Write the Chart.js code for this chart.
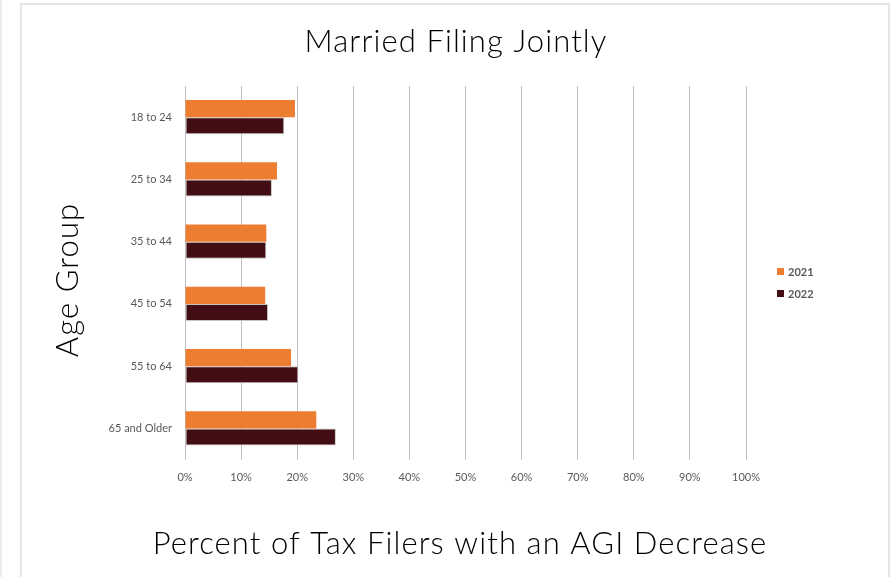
<!DOCTYPE html>
<html>
<head>
<meta charset="utf-8">
<script src="https://cdn.jsdelivr.net/npm/chart.js@4.4.1/dist/chart.umd.min.js"></script>
<style>
  html, body { margin: 0; padding: 0; background: #fff; }
  #wrap { position: relative; width: 891px; height: 577px; overflow: hidden; }
  #edge { position: absolute; left: 0; top: 0; width: 2px; height: 577px; background: #ececec; }
  #frame { position: absolute; left: 20px; top: 3px; width: 866px; height: 580px;
           border-left: 2px solid #e6e6e6; border-top: 2px solid #e6e6e6; border-right: 2px solid #e6e6e6; }
  #c { position: absolute; left: 0; top: 0; }
</style>
</head>
<body>
<div id="wrap">
  <div id="edge"></div>
  <div id="frame"></div>
  <canvas id="c" width="891" height="577"></canvas>
</div>
<script>
// categories + values (percent of filers)
const ageGroups = ['18 to 24', '25 to 34', '35 to 44', '45 to 54', '55 to 64', '65 and Older'];
const pct2021 = [19.6, 16.4, 14.5, 14.3, 18.9, 23.4];
const pct2022 = [17.7, 15.5, 14.5, 14.8, 20.2, 26.9];
const xTicks = [0, 10, 20, 30, 40, 50, 60, 70, 80, 90, 100];

const chartTitle = 'Married Filing Jointly';
const xTitle = 'Percent of Tax Filers with an AGI Decrease';
const yTitle = 'Age Group';

const thinFont = "'Lato', 'Open Sans', sans-serif";
const tickFont = "'Lato', sans-serif";

// titles + legend drawn by hand (legend sits off to the right of the plot)
const extras = {
    id: 'extras',
    afterDraw(chart) {
        const ctx = chart.ctx;
        ctx.save();
        ctx.fillStyle = '#000';
        ctx.font = '300 31px ' + thinFont;
        ctx.letterSpacing = '1.1px';
        ctx.textAlign = 'center';
        ctx.textBaseline = 'middle';
        ctx.fillText(chartTitle, 456, 42);
        ctx.fillText(xTitle, 460, 544);

        ctx.save();
        ctx.translate(68, 280);
        ctx.rotate(-Math.PI / 2);
        ctx.fillText(yTitle, 0, 0);
        ctx.restore();

        // legend
        ctx.letterSpacing = '0px';
        ctx.font = 'bold 11px ' + tickFont;
        ctx.textAlign = 'left';
        chart.data.datasets.forEach((ds, i) => {
            const y = 272 + i * 22;
            ctx.fillStyle = ds.backgroundColor;
            ctx.fillRect(777, y - 4, 7, 7);
            ctx.fillStyle = '#595959';
            ctx.fillText(ds.label, 788, y);
        });
        ctx.restore();
    }
};

const ctx = document.getElementById('c');
const chart = new Chart(ctx, {
    type: 'bar',
    data: {
        labels: ageGroups,
        datasets: [
            {
                label: '2021',
                data: pct2021,
                backgroundColor: '#ED7D31',
                borderColor: '#ED7D31',
                borderWidth: 0
            },
            {
                label: '2022',
                data: pct2022,
                backgroundColor: '#430E13',
                borderColor: '#c4c4c4',
                borderWidth: 1,
                borderSkipped: false
            }
        ]
    },
    options: {
        indexAxis: 'y',
        responsive: false,
        animation: false,
        categoryPercentage: 0.55,
        barPercentage: 1.0,
        layout: {
            padding: { left: 20, top: 86, right: 145, bottom: 0 }
        },
        plugins: {
            legend: { display: false },
            title: { display: false },
            tooltip: { enabled: false }
        },
        scales: {
            x: {
                min: 0,
                max: 100,
                afterBuildTicks: (scale) => {
                    scale.ticks = xTicks.map(v => ({ value: v }));
                },
                afterFit: (scale) => { scale.height = 117.5; },
                grid: { color: '#bfbfbf', lineWidth: 1, drawTicks: false },
                border: { display: false },
                ticks: {
                    padding: 11,
                    color: '#595959',
                    font: { family: tickFont, size: 11 },
                    callback: (v) => v + '%'
                }
            },
            y: {
                afterFit: (scale) => { scale.width = 165; },
                grid: { display: false, drawTicks: false },
                border: { display: false },
                ticks: {
                    padding: 13,
                    color: '#595959',
                    font: { family: tickFont, size: 11 }
                }
            }
        }
    },
    plugins: [extras]
});
</script>
</body>
</html>
